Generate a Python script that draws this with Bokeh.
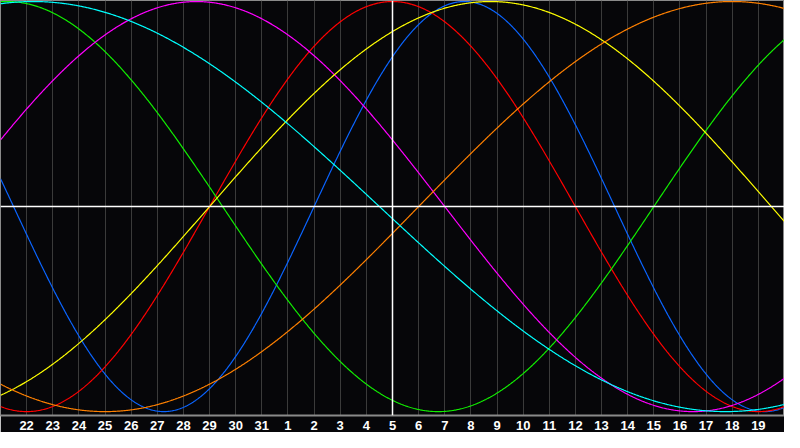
import numpy as np
from bokeh.plotting import figure
from bokeh.models import Range1d, FixedTicker, Span, ColumnDataSource
from bokeh.embed import file_html
from bokeh.resources import INLINE

# Day labels along the bottom (one per vertical grid line)
day_labels = ["22", "23", "24", "25", "26", "27", "28", "29", "30", "31",
              "1", "2", "3", "4", "5", "6", "7", "8", "9", "10",
              "11", "12", "13", "14", "15", "16", "17", "18", "19"]
today_label = "5"

# Biorhythm cycles
cycle_names = ["Physical", "Emotional", "Intellectual", "Intuitive",
               "Aesthetic", "Awareness", "Spiritual"]
cycle_periods = [23, 28, 33, 38, 43, 48, 53]
# day within each cycle at the left edge of the chart
cycle_day_at_start = [11, 20, 8, 2, 35, 32, 12]
cycle_colors = ["#0a64ff", "#ff0000", "#11ee00", "#ff00ff",
                "#ffff00", "#ff8000", "#00ffff"]

n_days = len(day_labels) + 1
BG = "#060609"

p = figure(width=784, height=432, output_backend="svg", toolbar_location=None,
           x_range=Range1d(0, n_days), y_range=Range1d(-1.019, 1.005),
           y_axis_location=None,
           min_border_left=0, min_border_right=0, min_border_top=0,
           min_border_bottom=0,
           background_fill_color=BG, border_fill_color=BG,
           outline_line_color="#8a8a8a", outline_line_width=1)

ticks = list(range(1, n_days))
p.xaxis.ticker = FixedTicker(ticks=ticks)
p.xaxis.major_label_overrides = {t: lab for t, lab in zip(ticks, day_labels)}
p.xaxis.major_tick_line_color = None
p.xaxis.major_tick_out = 0
p.xaxis.major_tick_in = 0
p.xaxis.minor_tick_line_color = None
p.xaxis.axis_line_color = "#8a8a8a"
p.xaxis.axis_line_width = 2
p.xaxis.major_label_text_color = "white"
p.xaxis.major_label_text_font = "Liberation Sans"
p.xaxis.major_label_text_font_style = "bold"
p.xaxis.major_label_text_font_size = "13px"
p.xaxis.major_label_standoff = 5

p.xgrid.ticker = FixedTicker(ticks=ticks)
p.xgrid.grid_line_color = "#3a3a3a"
p.xgrid.grid_line_width = 1
p.ygrid.visible = False

# zero line and today marker
p.add_layout(Span(location=0, dimension="width", line_color="white", line_width=1.5))
today_pos = day_labels.index(today_label) + 1
p.add_layout(Span(location=today_pos, dimension="height", line_color="white", line_width=1.5))

t = np.linspace(0, n_days, 901)
for name, period, start, color in zip(cycle_names, cycle_periods,
                                      cycle_day_at_start, cycle_colors):
    y = np.sin(2 * np.pi * (start + t) / period)
    src = ColumnDataSource(dict(x=t, y=y))
    p.line("x", "y", source=src, line_color=color, line_width=1.2)

open("out.html", "w").write(file_html(p, INLINE))
